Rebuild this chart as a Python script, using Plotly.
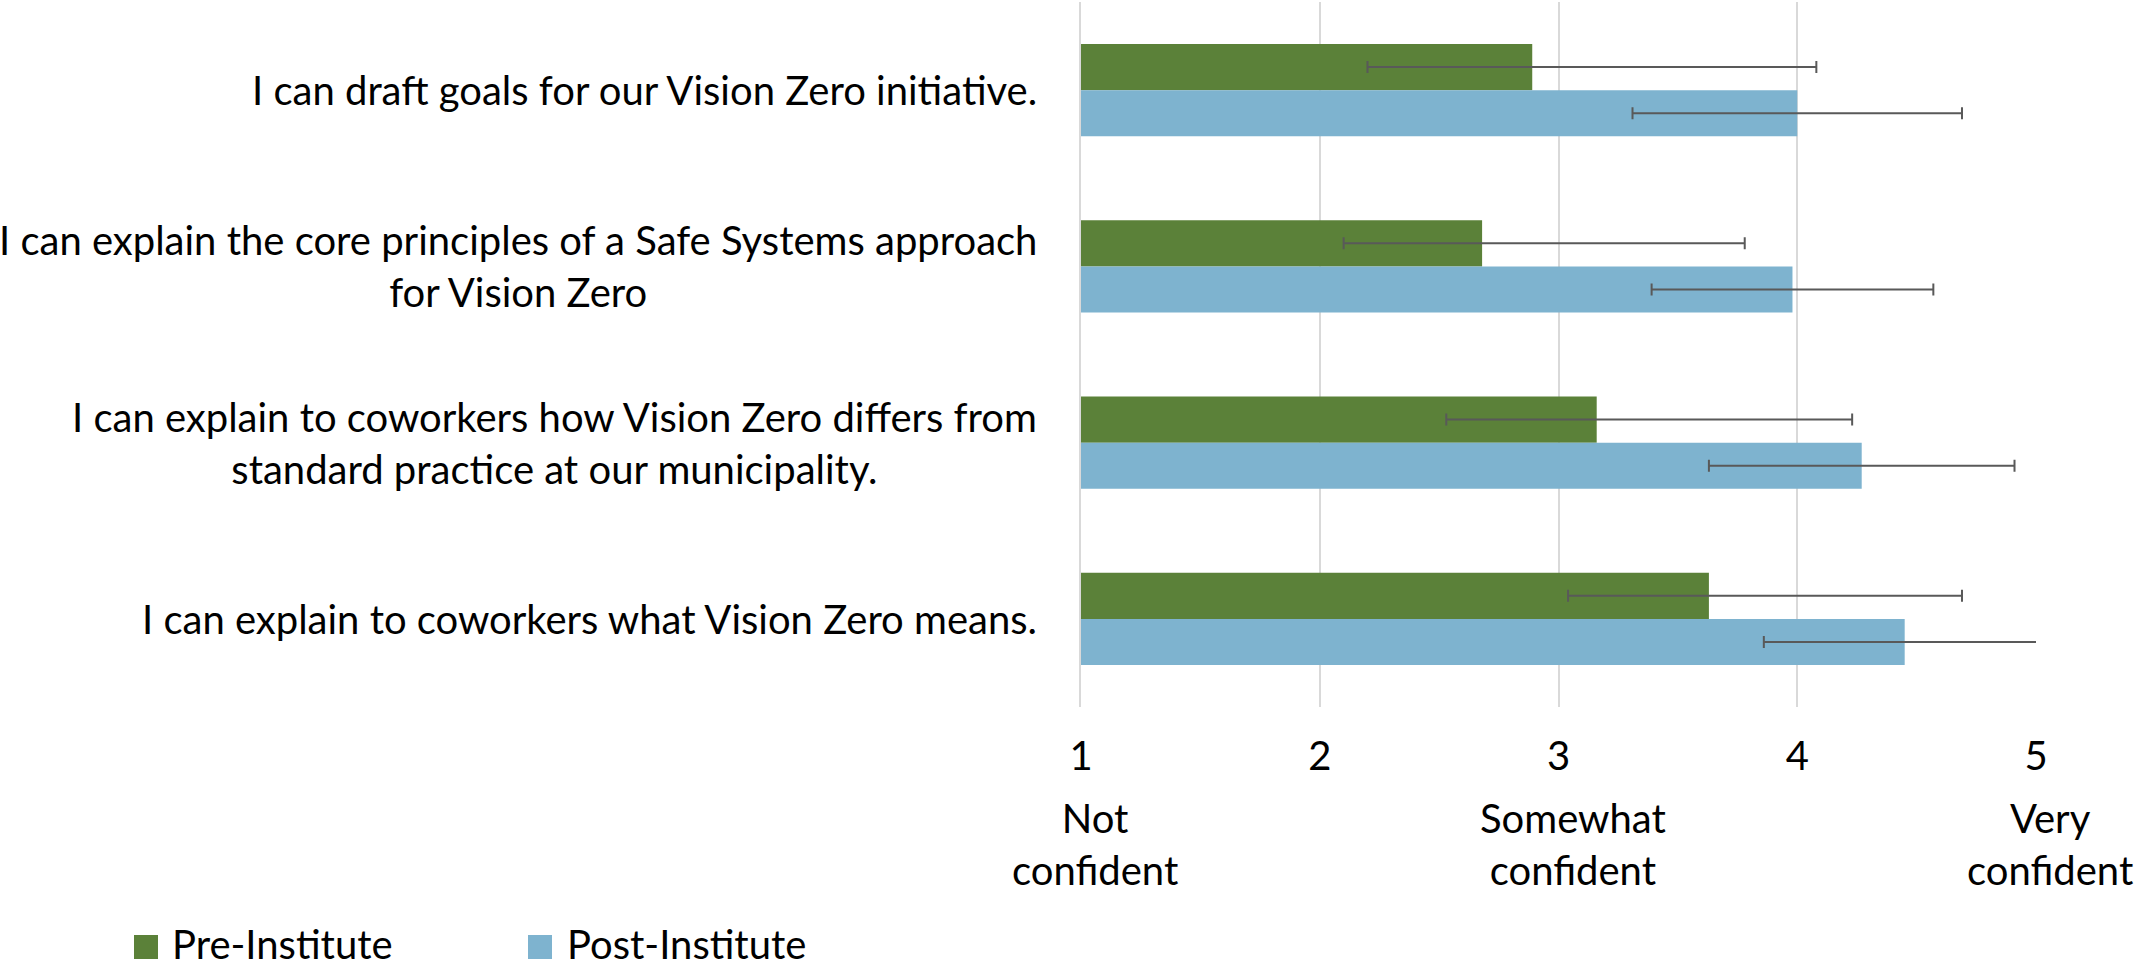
import plotly.graph_objects as go

categories = [
    "I can draft goals for our Vision Zero initiative.",
    "I can explain the core principles of a Safe Systems approach<br>for Vision Zero",
    "I can explain to coworkers how Vision Zero differs from<br>standard practice at our municipality.",
    "I can explain to coworkers what Vision Zero means.",
]
series_names = ["Pre-Institute", "Post-Institute"]
pre_mean = [2.89, 2.68, 3.16, 3.63]
pre_err_plus = [1.19, 1.10, 1.07, 1.06]
pre_err_minus = [0.69, 0.58, 0.63, 0.59]
post_mean = [4.00, 3.98, 4.27, 4.45]
post_err = [0.69, 0.59, 0.64, 0.59]
tick_values = [1, 2, 3, 4, 5]
tick_labels = ["1", "2", "3", "4", "5"]
scale_labels = {1: "Not<br>confident", 3: "Somewhat<br>confident", 5: "Very<br>confident"}

GREEN = "#5B8139"
BLUE = "#7EB3CF"
ERR = "#595959"
GRID = "#D9D9D9"
FONT = "Lato"
FS = 40

W, H = 2146, 971
L, R, T, B = 1081, 110, 2, 264
PW = W - L - R
PH = H - T - B

def px(x):
    return (x - L) / PW

def py(y):
    return (H - B - y) / PH

cat_ids = [c.replace("<br>", " ") for c in categories]

fig = go.Figure()
fig.add_trace(go.Bar(
    name=series_names[0], y=cat_ids, x=pre_mean, orientation="h",
    marker=dict(color=GREEN, line=dict(width=0)),
    error_x=dict(type="data", symmetric=False, array=pre_err_plus,
                 arrayminus=pre_err_minus, color=ERR, thickness=2, width=6),
    showlegend=False,
))
fig.add_trace(go.Bar(
    name=series_names[1], y=cat_ids, x=post_mean, orientation="h",
    marker=dict(color=BLUE, line=dict(width=0)),
    error_x=dict(type="data", array=post_err, color=ERR, thickness=2, width=6),
    showlegend=False,
))

annotations = []
for cid, lab in zip(cat_ids, categories):
    annotations.append(dict(
        x=0, xref="paper", y=cid, yref="y", xanchor="right", yanchor="middle",
        xshift=-42, text=lab, align="center", showarrow=False,
        font=dict(family=FONT, size=FS, color="black"),
    ))
for v, lab in scale_labels.items():
    annotations.append(dict(
        x=v, xref="x", y=py(792), yref="paper", xanchor="center", yanchor="top",
        xshift=14, text=lab, align="center", showarrow=False,
        font=dict(family=FONT, size=FS, color="black"),
    ))

# custom legend
shapes = []
legend_items = [(series_names[0], GREEN, 134, 170), (series_names[1], BLUE, 528, 565)]
for name, col, sx, tx in legend_items:
    shapes.append(dict(type="rect", xref="paper", yref="paper",
                       x0=px(sx), x1=px(sx + 24), y0=py(959), y1=py(935),
                       fillcolor=col, line=dict(width=0)))
    annotations.append(dict(
        x=px(tx), xref="paper", y=py(944), yref="paper", xanchor="left", yanchor="middle",
        text=name, showarrow=False, font=dict(family=FONT, size=FS, color="black"),
    ))

fig.update_layout(
    width=W, height=H,
    margin=dict(l=L, r=R, t=T, b=B, pad=0),
    paper_bgcolor="white", plot_bgcolor="white",
    barmode="group", bargap=0.477, bargroupgap=0,
    showlegend=False,
    font=dict(family=FONT, size=FS, color="black"),
    xaxis=dict(range=[1, 5], tickvals=tick_values, ticktext=tick_labels,
               showgrid=True, gridcolor=GRID, gridwidth=2,
               zeroline=False, showline=False, ticks="",
               ticklabelstandoff=22,
               tickfont=dict(family=FONT, size=FS, color="black")),
    yaxis=dict(type="category", categoryorder="array", categoryarray=cat_ids,
               autorange="reversed", showticklabels=False, showgrid=False,
               zeroline=False, showline=True, linecolor=GRID, linewidth=2,
               ticks=""),
    annotations=annotations,
    shapes=shapes,
)

fig.write_html(
    "out.html",
    config={"displayModeBar": False},
    post_script="document.body.style.margin='0px';document.body.style.overflow='hidden';",
)
